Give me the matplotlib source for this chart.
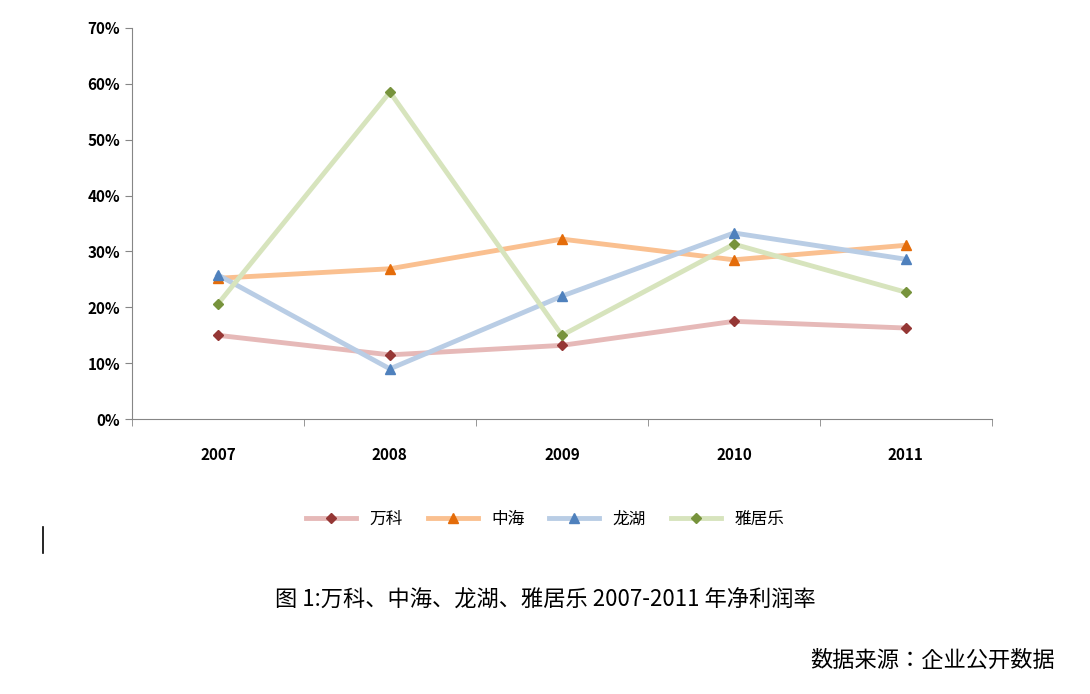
import matplotlib
matplotlib.use("Agg")
import matplotlib.pyplot as plt
from matplotlib.lines import Line2D

years = ["2007", "2008", "2009", "2010", "2011"]
vanke = [15.0, 11.5, 13.2, 17.5, 16.3]
zhonghai = [25.2, 26.9, 32.2, 28.5, 31.1]
longhu = [25.8, 9.0, 22.0, 33.3, 28.6]
yajule = [20.6, 58.5, 15.0, 31.3, 22.7]
names = ["万科", "中海", "龙湖", "雅居乐"]

plt.rcParams["font.family"] = "sans-serif"
plt.rcParams["font.sans-serif"] = ["Noto Sans CJK SC", "Noto Sans CJK JP", "Noto Sans CJK TC", "DejaVu Sans"]
fig = plt.figure(figsize=(10.9, 6.94), dpi=100)
ax = fig.add_axes([0.121, 0.396, 0.789, 0.564])
styles = [(vanke, "#E6B9B8", "#953735", "D", 5),
          (zhonghai, "#FAC090", "#E46C0A", "^", 7),
          (longhu, "#B9CDE5", "#4F81BD", "^", 7),
          (yajule, "#D7E4BD", "#77933C", "D", 5)]
x = list(range(len(years)))
handles = []
for (vals, lc, mc, m, ms), n in zip(styles, names):
    ax.plot(x, vals, color=lc, lw=3.5, zorder=2)
    ax.plot(x, vals, ls="none", marker=m, ms=ms, color=mc, zorder=3)
    handles.append(Line2D([], [], color=lc, lw=3.5, marker=m, ms=ms,
                          markerfacecolor=mc, markeredgecolor=mc, label=n))
ax.set_xlim(-0.5, 4.5)
ax.set_ylim(0, 70)
ax.set_yticks(range(0, 71, 10))
ax.set_yticklabels([f"{v}%" for v in range(0, 71, 10)], fontsize=11, fontweight="bold")
ax.set_xticks(x)
ax.set_xticklabels(years, fontsize=11, fontweight="bold")
ax.set_xticks([i + 0.5 for i in range(-1, 5)], minor=True)
ax.tick_params(axis="x", which="major", length=0, pad=20)
ax.tick_params(axis="x", which="minor", length=5, color="#868686")
ax.tick_params(axis="y", length=5, color="#868686", direction="out")
for s in ["top", "right"]:
    ax.spines[s].set_visible(False)
for s in ["left", "bottom"]:
    ax.spines[s].set_color("#868686")

fig.legend(handles=handles, loc="center", bbox_to_anchor=(0.5, 0.252), ncol=4,
           frameon=False, fontsize=12, handlelength=3, columnspacing=1.5)
fig.add_artist(Line2D([43/1090, 43/1090], [1-553/694, 1-527/694], color="black", lw=1.2))
fig.text(0.5, 1-600/694, "图 1:万科、中海、龙湖、雅居乐 2007-2011 年净利润率",
         ha="center", va="center", fontsize=16)
fig.text(1055/1090, 1-660/694, "数据来源：企业公开数据", ha="right", va="center", fontsize=16)
fig.savefig("out.png", dpi=100)
